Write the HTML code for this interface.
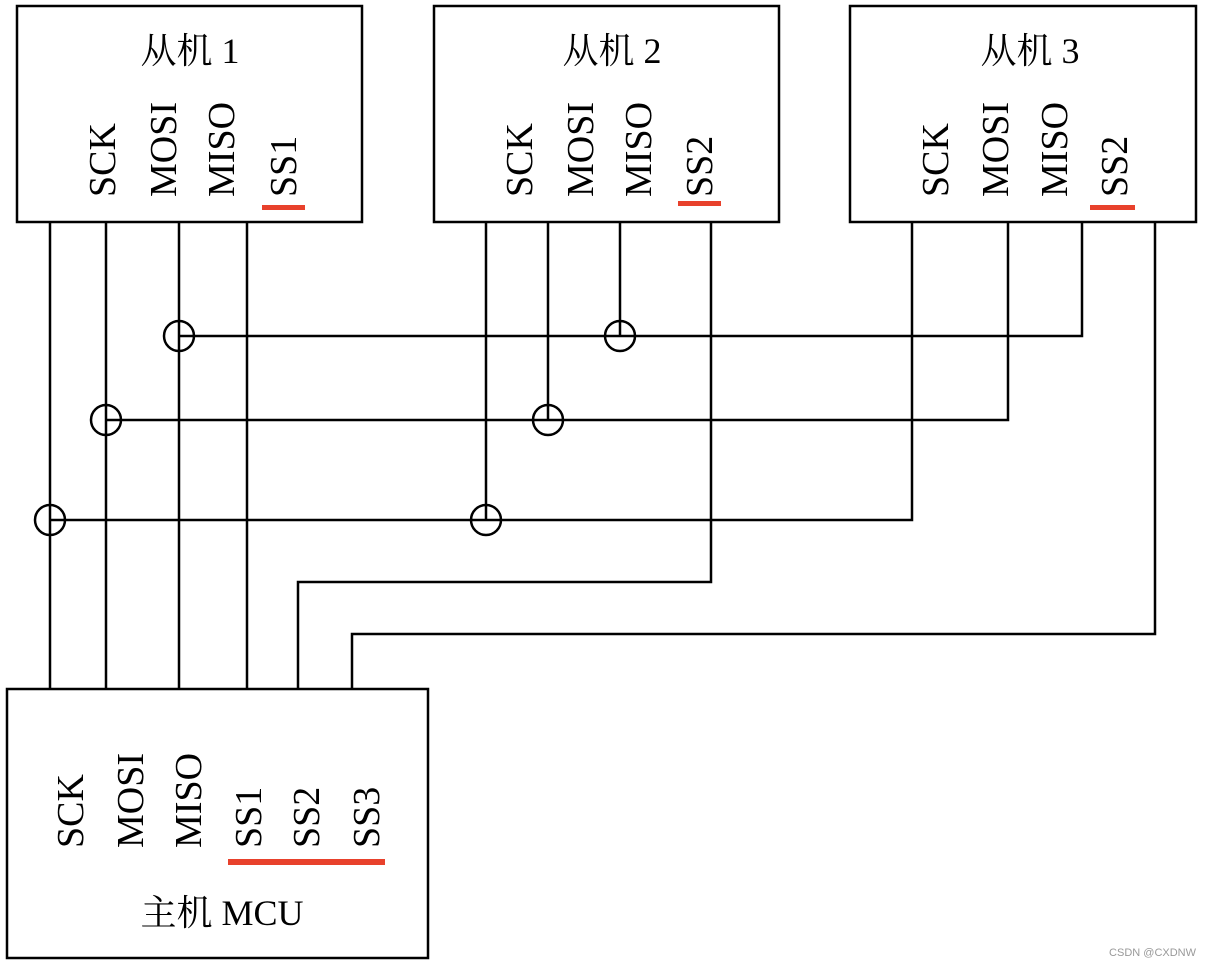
<!DOCTYPE html>
<html><head><meta charset="utf-8"><style>html,body{margin:0;padding:0;background:#fff}</style></head>
<body>
<svg width="1208" height="966" viewBox="0 0 1208 966" xmlns="http://www.w3.org/2000/svg" font-family="'Liberation Serif','Noto Serif CJK SC',serif">
<g fill="none" stroke="#000" stroke-width="2.5">
<rect x="17" y="6" width="345" height="216"/>
<rect x="434" y="6" width="345" height="216"/>
<rect x="850" y="6" width="346" height="216"/>
<rect x="7" y="689" width="421" height="269"/>
<!-- straight lines slave1 -> master -->
<line x1="50" y1="222" x2="50" y2="689"/>
<line x1="106" y1="222" x2="106" y2="689"/>
<line x1="179" y1="222" x2="179" y2="689"/>
<line x1="247" y1="222" x2="247" y2="689"/>
<!-- slave2 -->
<line x1="486" y1="222" x2="486" y2="520"/>
<line x1="548" y1="222" x2="548" y2="420"/>
<line x1="620" y1="222" x2="620" y2="336"/>
<polyline points="711,222 711,582 298,582 298,689"/>
<!-- slave3 -->
<polyline points="912,222 912,520 50,520"/>
<polyline points="1008,222 1008,420 106,420"/>
<polyline points="1082,222 1082,336 179,336"/>
<polyline points="1155,222 1155,634 352,634 352,689"/>
<circle cx="179" cy="336" r="15"/>
<circle cx="620" cy="336" r="15"/>
<circle cx="106" cy="420" r="15"/>
<circle cx="548" cy="420" r="15"/>
<circle cx="50" cy="520" r="15"/>
<circle cx="486" cy="520" r="15"/>
</g>
<g fill="#e8412c">
<rect x="262" y="205" width="43" height="5"/>
<rect x="678" y="201" width="43" height="5"/>
<rect x="1090" y="205" width="45" height="5"/>
<rect x="228" y="859" width="157" height="6"/>
</g>
<g font-size="36" fill="#000" text-anchor="middle">
<text x="190" y="63">从机 1</text>
<text x="612" y="63">从机 2</text>
<text x="1030" y="63">从机 3</text>
<text x="222" y="925">主机 MCU</text>
</g>
<g font-size="38" fill="#000">
<text transform="translate(115,197) rotate(-90)">SCK</text>
<text transform="translate(176,197) rotate(-90)">MOSI</text>
<text transform="translate(234,197) rotate(-90)">MISO</text>
<text transform="translate(296,197) rotate(-90)">SS1</text>
<text transform="translate(532,197) rotate(-90)">SCK</text>
<text transform="translate(593,197) rotate(-90)">MOSI</text>
<text transform="translate(651,197) rotate(-90)">MISO</text>
<text transform="translate(712,197) rotate(-90)">SS2</text>
<text transform="translate(948,197) rotate(-90)">SCK</text>
<text transform="translate(1008,197) rotate(-90)">MOSI</text>
<text transform="translate(1067,197) rotate(-90)">MISO</text>
<text transform="translate(1127,197) rotate(-90)">SS2</text>
<text transform="translate(83,848) rotate(-90)">SCK</text>
<text transform="translate(143,848) rotate(-90)">MOSI</text>
<text transform="translate(201,848) rotate(-90)">MISO</text>
<text transform="translate(261,848) rotate(-90)">SS1</text>
<text transform="translate(319,848) rotate(-90)">SS2</text>
<text transform="translate(379,848) rotate(-90)">SS3</text>
</g>
<text x="1196" y="956" font-family="'Liberation Sans',sans-serif" font-size="11" fill="#999" text-anchor="end">CSDN @CXDNW</text>
</svg>
</body></html>
